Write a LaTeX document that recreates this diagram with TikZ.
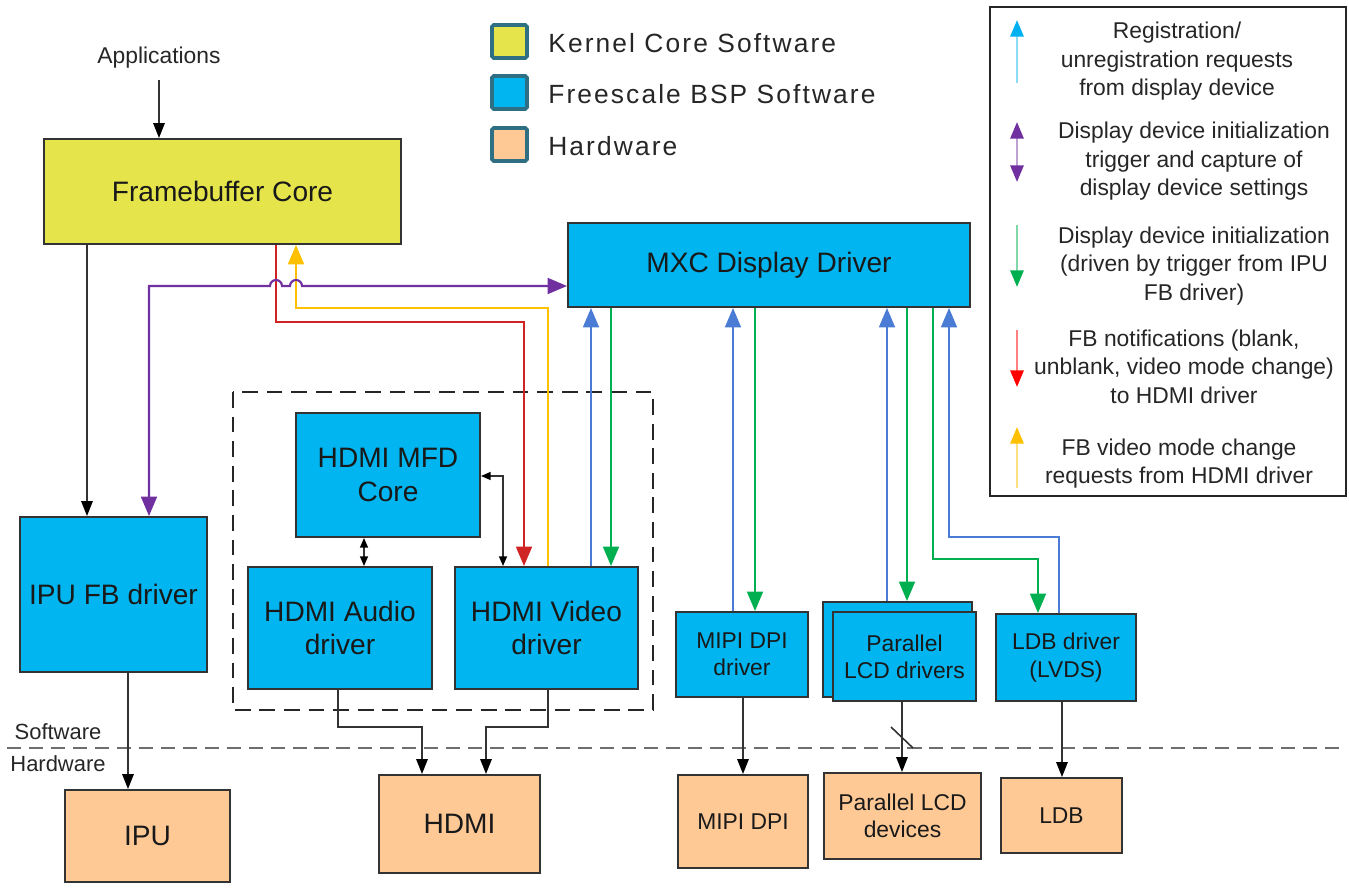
\documentclass[tikz,border=0pt]{standalone}
\usepackage{fontspec}
\setmainfont{Liberation Sans}
\usetikzlibrary{arrows.meta}
\definecolor{kyellow}{HTML}{E5E54B}
\definecolor{bspblue}{HTML}{00B5F0}
\definecolor{hwtan}{HTML}{FFC996}
\definecolor{boxline}{HTML}{333333}
\definecolor{keyteal}{HTML}{2F6F84}
\definecolor{cpurple}{HTML}{7030A0}
\definecolor{cred}{HTML}{D02424}
\definecolor{cyellow}{HTML}{FFC000}
\definecolor{cblue}{HTML}{4A7CD6}
\definecolor{cgreen}{HTML}{00B050}
\definecolor{lgcyan}{HTML}{00B0F0}
\definecolor{lgred}{HTML}{FF0000}
\definecolor{sepgray}{HTML}{6E6E6E}

\begin{document}
\begin{tikzpicture}[x=0.02cm, y=-0.02cm,
	sz/.style 2 args={minimum width=#1*0.02cm, minimum height=#2*0.02cm},
	box/.style={draw=boxline, line width=1.1pt, inner sep=0pt, align=center, text=black!90},
	bigtxt/.style={font=\fontsize{16}{19}\selectfont},
	midtxt/.style={font=\fontsize{13}{15.5}\selectfont},
	lbl/.style={inner sep=0pt, text=black!85},
	keysq/.style={draw=keyteal, line width=2.2pt, rounded corners=1pt, sz={35}{33}},
	keytxt/.style={lbl, anchor=west, font=\fontsize{15}{17}\selectfont\addfontfeature{LetterSpace=8}},
	flow/.style={line width=1.2pt, >={Triangle[length=11pt,width=9pt]}},
	blk/.style={draw=black!80, line width=0.9pt, >={Triangle[length=8.5pt,width=6.5pt,color=black]}},
	small/.style={draw=black!80, line width=0.9pt, >={Triangle[length=5.5pt,width=4.5pt,color=black]}},
	lgtxt/.style={lbl, align=center, font=\fontsize{13}{16.2}\selectfont},
	lgtip/.style={line width=1.5pt}]
	\useasboundingbox (0,0) rectangle (1349,891);

	% software boxes
	\node[box, fill=kyellow, sz={357}{105}, bigtxt] (fbcore) at (222.5,191.5) {Framebuffer Core};
	\node[box, fill=bspblue, sz={402}{84}, bigtxt] (mxc) at (769,265) {MXC Display Driver};
	\node[box, fill=bspblue, sz={187}{155}, bigtxt] (ipufb) at (113.5,594.5) {IPU FB driver};
	\node[box, fill=bspblue, sz={184}{124}, bigtxt] (mfd) at (388,475) {HDMI MFD\\Core};
	\node[box, fill=bspblue, sz={184}{122}, bigtxt] (audio) at (340,628) {HDMI Audio\\driver};
	\node[box, fill=bspblue, sz={183}{122}, bigtxt] (video) at (546.5,628) {HDMI Video\\driver};
	\node[box, fill=bspblue, sz={132}{85}, midtxt] (mipidrv) at (742,654.5) {MIPI DPI\\driver};
	\node[box, fill=bspblue, sz={149}{95}] (lcdshadow) at (897.5,649.5) {};
	\node[box, fill=bspblue, sz={143}{89}, midtxt] (lcddrv) at (904.5,656.5) {Parallel\\LCD drivers};
	\node[box, fill=bspblue, sz={140}{87}, midtxt] (ldbdrv) at (1066,657.5) {LDB driver\\(LVDS)};

	% hardware boxes
	\node[box, fill=hwtan, sz={165}{92}, bigtxt] (ipu) at (147.5,836) {IPU};
	\node[box, fill=hwtan, sz={161}{98}, bigtxt] (hdmi) at (459.5,824) {HDMI};
	\node[box, fill=hwtan, sz={130}{93}, midtxt] (mipi) at (743,821.5) {MIPI DPI};
	\node[box, fill=hwtan, sz={157}{86}, midtxt] (lcd) at (902.5,816) {Parallel LCD\\devices};
	\node[box, fill=hwtan, sz={121}{75}, midtxt] (ldb) at (1061.5,815.5) {LDB};

	% HDMI group
	\draw[black!85, line width=0.9pt, dash pattern=on 9pt off 5pt] (233,392) rectangle (653,710);

	% labels
	\node[lbl, font=\fontsize{13}{15}\selectfont] (apps) at (159,58) {Applications};
	\node[lbl, font=\fontsize{12.5}{15}\selectfont] (swlbl) at (58,732) {Software};
	\node[lbl, font=\fontsize{12.5}{15}\selectfont] (hwlbl) at (58,764) {Hardware};
	\draw[sepgray, line width=1.4pt, dash pattern=on 8pt off 4.5pt] (7,748) -- (1341,748);

	% key
	\node[keysq, fill=kyellow] (keyk) at (509.5,41.5) {};
	\node[keysq, fill=bspblue] (keyb) at (509.5,92.5) {};
	\node[keysq, fill=hwtan] (keyh) at (509.5,144.5) {};
	\node[keytxt] (keyktxt) at (548,43) {Kernel Core Software};
	\node[keytxt] (keybtxt) at (548,94) {Freescale BSP Software};
	\node[keytxt] (keyhtxt) at (548,146) {Hardware};

	% black arrows
	\draw[blk, ->] (apps) ++(0,22) -- (fbcore.north -| apps);
	\draw[blk, ->] (fbcore.south -| 87,0) -- (ipufb.north -| 87,0);
	\draw[blk, ->] (ipufb.south -| 128,0) -- (ipu.north -| 128,0);
	\draw[small, <->] (mfd.south -| 364,0) -- (audio.north -| 364,0);
	\draw[small, <->] (mfd.east |- 0,476) -| (video.north -| 503,0);
	\draw[blk, ->] (audio.south -| 338,0) -- (338,727) -- (422,727) -- (hdmi.north -| 422,0);
	\draw[blk, ->] (video.south -| 548,0) -- (548,727) -- (486,727) -- (hdmi.north -| 486,0);
	\draw[blk, ->] (mipidrv.south -| 743,0) -- (mipi.north -| 743,0);
	\draw[blk, ->] (lcddrv.south -| 902,0) -- (lcd.north -| 902,0);
	\draw[blk] (891,727) -- (913,748);
	\draw[blk, ->] (ldbdrv.south -| 1062,0) -- (ldb.north -| 1062,0);

	% framebuffer / HDMI flows
	\draw[flow, cred, ->] (fbcore.south -| 276,0) -- (276,322) -- (524,322) -- (video.north -| 524,0);
	\draw[flow, cyellow, ->] (video.north -| 548,0) -- (548,308) -- (296,308) -- (fbcore.south -| 296,0);
	\draw[flow, cpurple, <->] (ipufb.north -| 149,0) -- (149,286) -- (270,286)
		arc[start angle=180, end angle=360, radius=6] -- (290,286)
		arc[start angle=180, end angle=360, radius=6] -- (mxc.west |- 0,286);

	% display driver flows
	\draw[flow, cblue, ->] (video.north -| 591,0) -- (mxc.south -| 591,0);
	\draw[flow, cgreen, ->] (mxc.south -| 611,0) -- (video.north -| 611,0);
	\draw[flow, cblue, ->] (mipidrv.north -| 733,0) -- (mxc.south -| 733,0);
	\draw[flow, cgreen, ->] (mxc.south -| 755,0) -- (mipidrv.north -| 755,0);
	\draw[flow, cblue, ->] (lcdshadow.north -| 887,0) -- (mxc.south -| 887,0);
	\draw[flow, cgreen, ->] (mxc.south -| 907,0) -- (lcdshadow.north -| 907,0);
	\draw[flow, cgreen, ->] (mxc.south -| 933,0) -- (933,559) -- (1038,559) -- (ldbdrv.north -| 1038,0);
	\draw[flow, cblue, ->] (ldbdrv.north -| 1059,0) -- (1059,537) -- (949,537) -- (mxc.south -| 949,0);

	% legend
	\draw[black!85, line width=1.3pt] (990,7) rectangle (1346,496);
	\node[lgtxt] (lgreg) at (1177,61.5) {Registration/\\unregistration requests\\from display device};
	\node[lgtxt] (lgtrig) at (1194,161.5) {Display device initialization\\trigger and capture of\\display device settings};
	\node[lgtxt] (lginit) at (1194,266) {Display device initialization\\(driven by trigger from IPU\\FB driver)};
	\node[lgtxt] (lgnotif) at (1184,366.5) {FB notifications (blank,\\unblank, video mode change)\\to HDMI driver};
	\node[lgtxt] (lgmode) at (1179,463.5) {FB video mode change\\requests from HDMI driver};
	\draw[lgtip, lgcyan!45, -{Triangle[length=9.5pt,width=7.5pt,color=lgcyan]}] (1017,83) -- (1017,20);
	\draw[lgtip, cpurple!45, {Triangle[length=9.5pt,width=7.5pt,color=cpurple]}-{Triangle[length=9.5pt,width=7.5pt,color=cpurple]}] (1017,122) -- (1017,182);
	\draw[lgtip, cgreen!50, -{Triangle[length=9.5pt,width=7.5pt,color=cgreen]}] (1017,225) -- (1017,287);
	\draw[lgtip, lgred!50, -{Triangle[length=9.5pt,width=7.5pt,color=lgred]}] (1017,330) -- (1017,387);
	\draw[lgtip, cyellow!50, -{Triangle[length=9.5pt,width=7.5pt,color=cyellow]}] (1017,488) -- (1017,427);
\end{tikzpicture}
\end{document}
